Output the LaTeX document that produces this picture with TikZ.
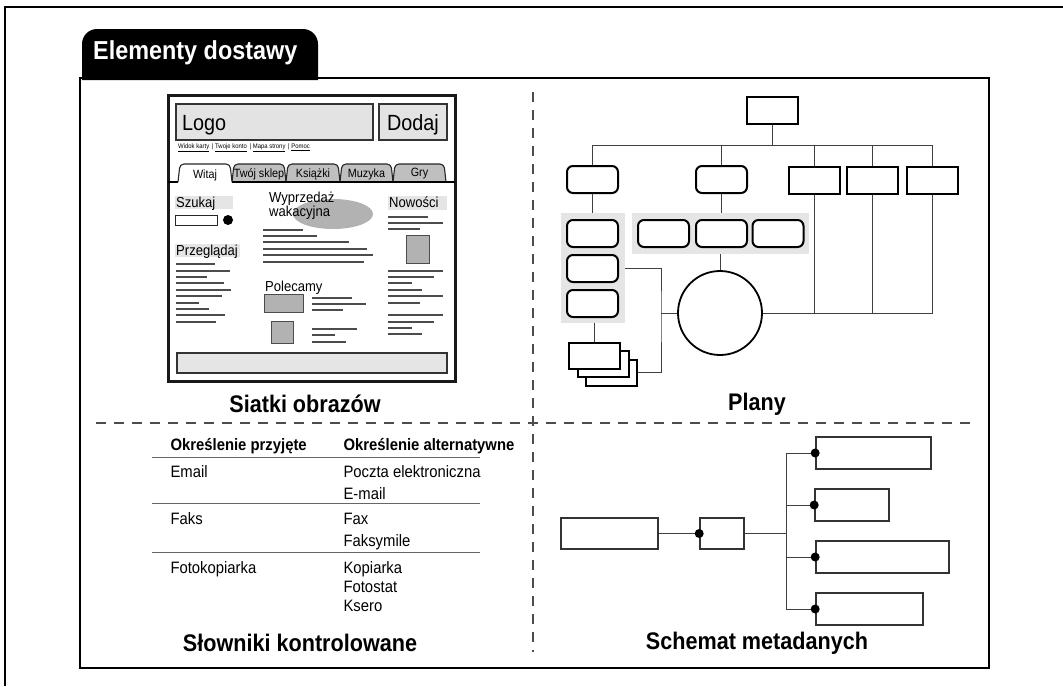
\documentclass[tikz,border=0pt]{standalone}
\usepackage{fontspec}
\setmainfont[FakeStretch=0.9]{Liberation Sans}
\usetikzlibrary{calc}
\begin{document}
\begin{tikzpicture}[x=1pt,y=-1pt,
 tline/.style={line width=1.2, draw=black!70},
 pbox/.style={draw, line width=2, minimum width=51, minimum height=27, inner sep=0, fill=white},
 prbox/.style={pbox, rounded corners=6},
 grp/.style={fill=gray!20, inner sep=0},
 conn/.style={line width=1, draw=black!75},
 mbox/.style={draw=black!80, line width=1.6, inner sep=0, minimum height=32},
 dotn/.style={circle, fill, inner sep=0, minimum size=9},
 lab/.style={font=\bfseries\fontsize{24}{28}\selectfont},
 ttxt/.style={anchor=base west, font=\fontsize{16.5}{19}\selectfont},
 thead/.style={anchor=base west, font=\bfseries\fontsize{16.5}{19}\selectfont},
 wtxt/.style={anchor=base west, font=\fontsize{14.5}{16}\selectfont, inner sep=0},
 tabtxt/.style={font=\fontsize{12}{14}\selectfont, inner sep=0},
 divider/.style={line width=1.2, draw=black!70, dash pattern=on 10 off 8},
 tabshape/.style={draw=black!85, line width=1.1, rounded corners=4},
]
\useasboundingbox (0,0) rectangle (1063,686);
% outer frame
\draw[line width=2.5] (5,686) -- (5,7) -- (1063,7);
% tab
\fill (82,80) [rounded corners=15] -- (82,29) -- (318,29) [sharp corners] -- (318,80) -- cycle;
\node[text=white, anchor=west, font=\bfseries\fontsize{26}{30}\selectfont, inner sep=0] (title) at (93,53) {Elementy dostawy};
% main box
\draw[line width=2.2] (80,78) rectangle (989,668);
% dividers
\draw[divider] (533,92) -- (533,652);
\draw[divider] (96,423) -- (970,423);
% section labels
\node[lab] (l1) at (305,404) {Siatki obrazów};
\node[lab] (l2) at (757,404) {Plany};
\node[lab] (l3) at (300,643) {Słowniki kontrolowane};
\node[lab] (l4) at (757,643) {Schemat metadanych};

% ================= wireframe
\draw[line width=3, draw=black!90] (168,95) rectangle (455,381);
\draw[line width=1.3, fill=gray!22, draw=black!80] (176,104) rectangle (373,140);
\node[anchor=base west, font=\fontsize{22}{26}\selectfont, inner sep=0] (logo) at (182,130) {Logo};
\draw[line width=1.3, fill=gray!22, draw=black!80] (379,104) rectangle (447,140);
\node[anchor=base, font=\fontsize{22}{26}\selectfont, inner sep=0] (dodaj) at (413,130) {Dodaj};
\node[anchor=west, font=\fontsize{6.6}{7}\selectfont, inner sep=0] (links) at (178,148) {\underline{Widok karty}\ \,|\ \underline{Twoje konto}\ \,|\ \underline{Mapa strony}\ \,|\ \underline{Pomoc}};
% tabs
\foreach \a/\b in {232/286,286/340,340/393,393/446}{
  \draw[tabshape, fill=black!25] (\a,182) -- (\a+2,164) -- (\b-2,164) -- (\b,182);
}
\draw[line width=1.3] (168,182) -- (178,182);
\draw[line width=1.3] (232,182) -- (455,182);
\fill[white] (179,182) -- (181,164.5) -- (230,164.5) -- (232,182) -- cycle;
\draw[tabshape] (178,182) -- (180,164) -- (230,164) -- (232,182);
\node[tabtxt] (t1) at (205,175) {Witaj};
\node[tabtxt] (t2) at (259,174) {Twój sklep};
\node[tabtxt] (t3) at (313,174) {Książki};
\node[tabtxt] (t4) at (366.5,174) {Muzyka};
\node[tabtxt] (t5) at (419.5,174) {Gry};
% left column
\fill[gray!20] (175,196) rectangle (233,209);
\node[wtxt] (szukaj) at (176,207) {Szukaj};
\draw[line width=1, draw=black!85] (175,215) rectangle (217,225);
\fill (228,220) circle (5);
\fill[gray!20] (175,244) rectangle (240,257);
\node[wtxt] (przeg) at (176,255) {Przeglądaj};
\foreach \y/\e in {264/215,271/230,277/207,283/224,290/231,296/222,303/199,309/209,315/225,322/216}{
  \draw[tline] (176,\y) -- (\e,\y);
}
% middle column
\fill[black!30] (333,214) ellipse (40 and 15);
\node[wtxt] (wyp1) at (269,202) {Wyprzedaż};
\node[wtxt] (wyp2) at (269,216) {wakacyjna};
\foreach \y/\e in {230/303,236/317,242/349,249/367,255/373,262/364}{
  \draw[tline] (263,\y) -- (\e,\y);
}
\node[wtxt] (pol) at (265,291) {Polecamy};
\draw[line width=1, fill=black!30, draw=black!70] (264,294) rectangle (303,312);
\draw[line width=1, fill=black!30, draw=black!70] (271,321) rectangle (293,343);
\foreach \y/\e in {298/352,304/366,310/343,329/357,335/335,342/346}{
  \draw[tline] (312,\y) -- (\e,\y);
}
% right column
\fill[gray!20] (388,196) rectangle (447,210);
\node[wtxt] (now) at (389,207) {Nowości};
\foreach \y/\e in {217/428,223/443,229/420,271/443,277/434,283/412,290/422,296/443,303/420,315/443,322/434,328/412,334/422}{
  \draw[tline] (388,\y) -- (\e,\y);
}
\draw[line width=1, fill=black!30, draw=black!70] (406,235) rectangle (429,263);
% bottom bar
\draw[line width=1.3, fill=gray!20, draw=black!80] (177,353) rectangle (447,373);

% ================= Plany
\node[grp, minimum width=64, minimum height=110] (g1) at (593,268) {};
\node[grp, minimum width=177, minimum height=41] (g2) at (720.5,233.5) {};
\node[pbox] (root) at (772.5,110.5) {};
\node[prbox] (rb1) at (592.5,179.5) {};
\node[prbox] (rb2) at (721.5,179.5) {};
\node[pbox] (r3) at (814.5,180) {};
\node[pbox] (r4) at (872.5,180) {};
\node[pbox] (r5) at (932,180) {};
\node[prbox] (g1a) at (592.5,233.5) {};
\node[prbox] (g1b) at (592.5,268.5) {};
\node[prbox] (g1c) at (592.5,303.5) {};
\node[prbox] (g2a) at (663.5,233.5) {};
\node[prbox] (g2b) at (721.5,233.5) {};
\node[prbox] (g2c) at (778,233.5) {};
\node[circle, draw, line width=1.8, minimum size=84, inner sep=0] (circ) at (720,313) {};
\node[pbox, minimum height=26] (d3) at (611.5,372.5) {};
\node[pbox, minimum height=26] (d2) at (603,364) {};
\node[pbox, minimum height=26] (d1) at (594.5,356) {};
\coordinate (bus) at (0,145);
\coordinate (jx) at (661,313);
\draw[conn] (root.south) -- (root.south |- bus);
\draw[conn] (rb1.north) -- (rb1.north |- bus) -- (r5.north |- bus) -- (r5.north);
\draw[conn] (rb2.north) -- (rb2.north |- bus);
\draw[conn] (r3.north) -- (r3.north |- bus);
\draw[conn] (r4.north) -- (r4.north |- bus);
\draw[conn] (rb1.south) -- (g1.north -| rb1.south);
\draw[conn] (rb2.south) -- (g2.north -| rb2.south);
\draw[conn] (g2.south -| circ.north) -- (circ.north);
\draw[conn] (g1.south -| d1.north) -- (d1.north);
\draw[conn] (g1.east) -| (jx) |- (d3.east);
\draw[conn] (jx) -- (circ.west);
\draw[conn] (circ.east) -| (r5.south);
\draw[conn] (r3.south) -- (r3.south |- circ.east);
\draw[conn] (r4.south) -- (r4.south |- circ.east);

% ================= table
\node[thead] (h1) at (167,450) {Określenie przyjęte};
\node[thead] (h2) at (340,450) {Określenie alternatywne};
\draw[line width=1, black!60] (152,457) -- (480,457);
\node[ttxt] (c1) at (167,477) {Email};
\node[ttxt] (c1a) at (340,477) {Poczta elektroniczna};
\node[ttxt] (c1b) at (340,499) {E-mail};
\draw[line width=1, black!60] (152,503) -- (480,503);
\node[ttxt] (c2) at (167,524) {Faks};
\node[ttxt] (c2a) at (340,524) {Fax};
\node[ttxt] (c2b) at (340,546) {Faksymile};
\draw[line width=1, black!60] (152,552) -- (480,552);
\node[ttxt] (c3) at (167,573) {Fotokopiarka};
\node[ttxt] (c3a) at (340,573) {Kopiarka};
\node[ttxt] (c3b) at (340,592) {Fotostat};
\node[ttxt] (c3c) at (340,611) {Ksero};

% ================= metadata
\node[mbox, minimum width=97, minimum height=31] (mL) at (609.5,533.5) {};
\node[mbox, minimum width=44, minimum height=31] (mM) at (722,533.5) {};
\node[mbox, minimum width=115] (R1) at (873.5,453) {};
\node[mbox, minimum width=74] (R2) at (852,505) {};
\node[mbox, minimum width=133] (R3) at (882.5,557) {};
\node[mbox, minimum width=107] (R4) at (869.5,609) {};
\coordinate (tr) at (786,533.5);
\draw[conn] (mL.east) -- (mM.west);
\draw[conn] (mM.east) -- (tr);
\draw[conn] (tr |- R1.west) -- (tr |- R4.west);
\foreach \r in {R1,R2,R3,R4}{
  \draw[conn] (tr |- \r.west) -- (\r.west);
  \node[dotn] at (\r.west) {};
}
\node[dotn] at (mM.west) {};
\end{tikzpicture}
\end{document}
